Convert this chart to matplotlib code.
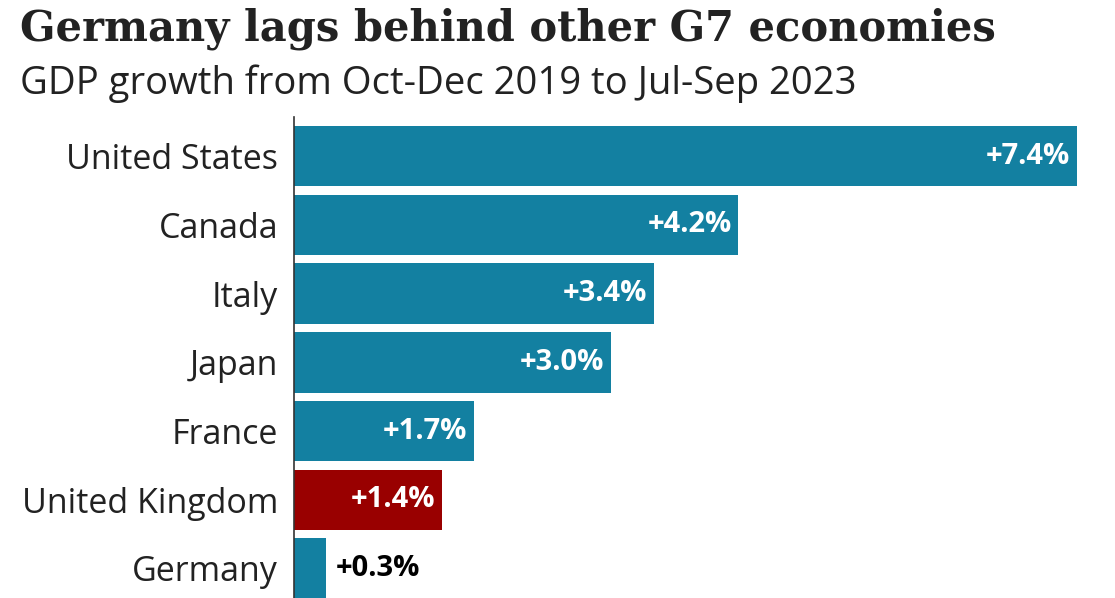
import matplotlib.pyplot as plt

countries = ["United States", "Canada", "Italy", "Japan", "France", "United Kingdom", "Germany"]
growth = [7.4, 4.2, 3.4, 3.0, 1.7, 1.4, 0.3]
labels = ["+7.4%", "+4.2%", "+3.4%", "+3.0%", "+1.7%", "+1.4%", "+0.3%"]
colors = ["#1380A1", "#1380A1", "#1380A1", "#1380A1", "#1380A1", "#990000", "#1380A1"]

W, H = 1115, 598
fig = plt.figure(figsize=(W / 100, H / 100), dpi=100)
ax = fig.add_axes([294 / W, 0, (1077 - 294) / W, (598 - 117) / H])

pos = list(range(len(countries)))
ax.barh(pos, growth, height=0.88, color=colors)
ax.set_xlim(0, 7.4)
ax.set_ylim(6.43, -0.57)

for i, (v, lab) in enumerate(zip(growth, labels)):
    if v > 1:
        ax.text(v - 0.065, i, lab, ha="right", va="center", color="white",
                fontsize=21, fontweight="bold", family="Open Sans")
    else:
        ax.text(v + 0.09, i, lab, ha="left", va="center", color="black",
                fontsize=21, fontweight="bold", family="Open Sans")

ax.set_yticks(pos)
ax.set_yticklabels(countries, fontsize=24.5, family="Open Sans", color="#222222")
ax.tick_params(axis="y", length=0, pad=11.5)
ax.set_xticks([])
for s in ["top", "right", "bottom"]:
    ax.spines[s].set_visible(False)
ax.spines["left"].set_color("#333333")
ax.spines["left"].set_linewidth(1.2)

fig.text(20 / W, 1 - 29 / H, "Germany lags behind other G7 economies", fontsize=30,
         fontweight="bold", family="DejaVu Serif", color="#222222", va="center")
fig.text(20 / W, 1 - 84 / H, "GDP growth from Oct-Dec 2019 to Jul-Sep 2023", fontsize=27.5,
         family="Open Sans", color="#222222", va="center")

fig.savefig("out.png", dpi=100)
